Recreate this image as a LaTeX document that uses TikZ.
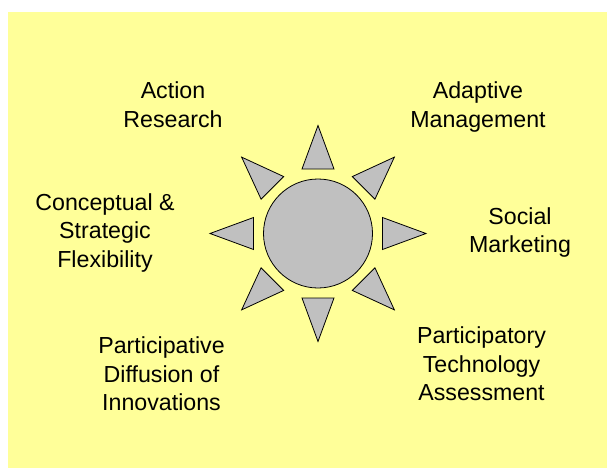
\documentclass[tikz,border=0pt]{standalone}
\usepackage{fontspec}
\setmainfont{Liberation Sans}
\definecolor{bgyellow}{HTML}{FFFF99}
\definecolor{sungray}{HTML}{C0C0C0}
\begin{document}
\begin{tikzpicture}[x=1pt,y=-1pt,
  ray/.style={draw=black, fill=sungray, line width=0.8pt, line join=miter},
  sunbody/.style={circle, draw=black, fill=sungray, line width=0.8pt, minimum size=109pt, inner sep=0pt},
  lbl/.style={anchor=base, inner sep=0pt, font=\fontsize{23.2}{28.7}\selectfont}]
\useasboundingbox (0,0) rectangle (607,468);
\fill[bgyellow] (8,12) rectangle (607,468);
\coordinate (c) at (318,233.5);
\node[sunbody] (sun) at (c) {};
\foreach \a in {0,45,...,315} {
  \draw[ray, shift={(c)}, rotate=\a] (108,0) -- (64.5,16) -- (64.5,-16) -- cycle;
}
\node[lbl] (action) at (173,99) {\begin{tabular}[t]{@{}c@{}}Action\\Research\end{tabular}};
\node[lbl] (adaptive) at (478,99) {\begin{tabular}[t]{@{}c@{}}Adaptive\\Management\end{tabular}};
\node[lbl] (concept) at (105,210) {\begin{tabular}[t]{@{}c@{}}Conceptual \&\\Strategic\\Flexibility\end{tabular}};
\node[lbl] (social) at (520,224) {\begin{tabular}[t]{@{}c@{}}Social\\Marketing\end{tabular}};
\node[lbl] (diffusion) at (161.5,353.3) {\begin{tabular}[t]{@{}c@{}}Participative\\Diffusion of\\Innovations\end{tabular}};
\node[lbl] (pta) at (481.5,343.3) {\begin{tabular}[t]{@{}c@{}}Participatory\\Technology\\Assessment\end{tabular}};
\end{tikzpicture}
\end{document}
